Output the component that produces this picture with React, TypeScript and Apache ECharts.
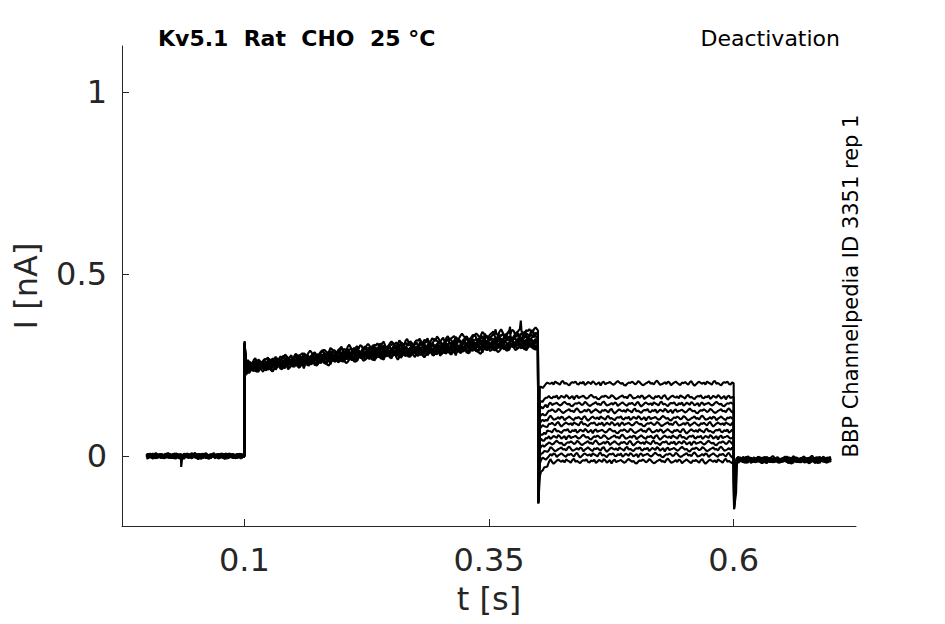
import React, { useEffect, useRef } from "react";
import * as echarts from "echarts";

// ---- Data ----
const X_TICKS = [0.1, 0.35, 0.6];
const Y_TICKS = [0, 0.5, 1];

// Mean activation envelope (0.1 s – 0.4 s)
const ACT_T = [0.1, 0.125, 0.15, 0.175, 0.2, 0.225, 0.25, 0.275, 0.3, 0.325, 0.35, 0.375, 0.4];
const ACT_MEAN = [0.245, 0.252, 0.26, 0.268, 0.276, 0.282, 0.288, 0.292, 0.297, 0.302, 0.307, 0.312, 0.315];

// Per-trace values (12 sweeps)
const PRE_LEVEL = [0.002, 0.001, 0.0, 0.0, -0.001, 0.001, 0.0, -0.002, 0.002, 0.0, -0.001, 0.001];
const ACT_SPIKE = [0.316, 0.312, 0.31, 0.305, 0.314, 0.308, 0.302, 0.31, 0.306, 0.3, 0.309, 0.304];
const ACT_OFF_START = [0.01, 0.007, 0.004, 0.002, 0.0, 0.0, -0.002, -0.004, -0.006, -0.008, -0.01, -0.012];
const ACT_OFF_END = [0.03, 0.022, 0.015, 0.01, 0.005, 0.0, 0.0, -0.005, -0.008, -0.01, -0.012, -0.015];
const DEACT_SPIKE = [-0.13, -0.128, -0.126, -0.124, -0.122, -0.12, -0.118, -0.116, -0.114, -0.112, -0.11, -0.13];
const DEACT_START = [0.19, 0.15, 0.13, 0.11, 0.09, 0.075, 0.055, 0.04, 0.02, 0.0, -0.02, -0.055];
const DEACT_LEVEL = [0.2, 0.162, 0.143, 0.124, 0.104, 0.088, 0.069, 0.052, 0.036, 0.019, 0.003, -0.014];
const POST_SPIKE = [-0.1, -0.105, -0.11, -0.115, -0.12, -0.125, -0.13, -0.135, -0.14, -0.142, -0.145, -0.146];
const POST_START = [-0.02, -0.02, -0.02, -0.02, -0.02, -0.025, -0.025, -0.03, -0.03, -0.04, -0.07, -0.1];
const POST_LEVEL = [-0.006, -0.008, -0.009, -0.01, -0.01, -0.011, -0.011, -0.012, -0.012, -0.013, -0.013, -0.014];

// Hand-typed recording noise pattern (unitless, scaled per phase)
const NOISE = [0.2, 0.5, -0.1, -0.6, -0.3, 0.4, 0.9, 0.3, -0.2, 0.1, -0.7, -0.9, -0.2, 0.3, 0.1, 0.6, 0.2, -0.4, -0.1, 0.8,
  0.4, -0.3, -0.8, -0.5, 0.0, 0.3, 0.7, -0.2, 0.1, -0.5, 0.5, 1.0, 0.2, -0.6, -0.4, -0.1, 0.4, -0.3, 0.6, 0.3,
  -0.8, -0.2, 0.2, 0.7, 0.1, -0.4, -0.7, 0.3, 0.0, 0.5, -0.1, -0.6, 0.4, 0.8, -0.3, -1.0, -0.4, 0.2, 0.6, 0.1,
  -0.2, 0.3, -0.5, 0.7, 0.2, -0.1, -0.6, 0.5, 0.9, -0.2, 0.1, -0.4, -0.8, 0.0, 0.4, 0.2, 0.7, -0.3, -0.5, 0.3,
  -0.1, 0.6, -0.7, -0.2, 0.5, 0.1, -0.3, 0.8, 0.3, -0.6, -0.1, 0.4, -0.9, 0.2, 0.6, -0.4, 0.0];

// Isolated excursions seen in the picture: [trace, t, value]
const EXTRA_POINTS: [number, number, number][] = [
  [3, 0.0355, -0.03],
  [0, 0.3825, 0.372],
  [1, 0.3715, 0.355],
  [0, 0.3565, 0.348],
  [2, 0.3455, 0.338],
];

const STEP = 0.0016;

function envelope(t: number): number {
  for (let i = 0; i < ACT_T.length - 1; i++) {
    if (t <= ACT_T[i + 1]) {
      const f = (t - ACT_T[i]) / (ACT_T[i + 1] - ACT_T[i]);
      return ACT_MEAN[i] + f * (ACT_MEAN[i + 1] - ACT_MEAN[i]);
    }
  }
  return ACT_MEAN[ACT_MEAN.length - 1];
}

function buildTrace(k: number): number[][] {
  const pts: number[][] = [];
  let j = 0;
  const nz = (amp: number) => NOISE[(j++ + 17 * k) % NOISE.length] * amp;
  // holding
  for (let i = 0; i < 62; i++) pts.push([i * STEP, PRE_LEVEL[k] + nz(0.007)]);
  pts.push([0.1, PRE_LEVEL[k]]);
  pts.push([0.1003, ACT_SPIKE[k]]);
  // activation
  for (let i = 1; i < 187; i++) {
    const t = 0.1 + i * STEP;
    const f = (t - 0.1) / 0.3;
    const off = ACT_OFF_START[k] + f * (ACT_OFF_END[k] - ACT_OFF_START[k]);
    pts.push([t, envelope(t) + off + nz(0.011)]);
  }
  pts.push([0.4, envelope(0.4) + ACT_OFF_END[k]]);
  pts.push([0.4004, DEACT_SPIKE[k]]);
  pts.push([0.402, DEACT_START[k]]);
  // deactivation
  for (let i = 2; i < 125; i++) {
    const t = 0.4 + i * STEP;
    const rel = i < 8 ? (DEACT_START[k] - DEACT_LEVEL[k]) * (8 - i) / 8 : 0;
    pts.push([t, DEACT_LEVEL[k] + rel + nz(0.007)]);
  }
  pts.push([0.6, DEACT_LEVEL[k]]);
  pts.push([0.6004, POST_SPIKE[k]]);
  pts.push([0.6025, POST_START[k]]);
  // tail
  for (let i = 2; i <= 62; i++) {
    const t = 0.6 + i * STEP;
    pts.push([t, POST_LEVEL[k] + nz(0.007)]);
  }
  EXTRA_POINTS.filter((e) => e[0] === k).forEach((e) => pts.push([e[1], e[2]]));
  pts.sort((a, b) => a[0] - b[0]);
  return pts;
}

const FONT = "DejaVu Sans";
const AX = "#262626";

export default function App() {
  const ref = useRef<HTMLDivElement>(null);
  useEffect(() => {
    if (!ref.current) return;
    const chart = echarts.init(ref.current, undefined, { renderer: "svg" });
    const series = DEACT_LEVEL.map((_, k) => ({
      type: "line",
      data: buildTrace(k),
      showSymbol: false,
      symbol: "none",
      lineStyle: { color: "#000", width: 2.1 },
      silent: true,
    }));
    chart.setOption({
      animation: false,
      backgroundColor: "#fff",
      grid: { left: 122, right: 89, top: 46, bottom: 98, containLabel: false },
      xAxis: {
        type: "value",
        min: -0.025,
        max: 0.725,
        name: "t [s]",
        nameLocation: "middle",
        nameGap: 57,
        nameTextStyle: { fontFamily: FONT, fontSize: 32, color: AX },
        axisLine: { show: true, onZero: false, lineStyle: { color: AX, width: 1 } },
        axisTick: { show: true, inside: true, length: 7, customValues: X_TICKS, lineStyle: { color: AX } },
        axisLabel: { customValues: X_TICKS, fontFamily: FONT, fontSize: 32, color: AX, margin: 18 },
        splitLine: { show: false },
      },
      yAxis: {
        type: "value",
        min: -0.192,
        max: 1.126,
        name: "I [nA]",
        nameLocation: "middle",
        nameGap: 80,
        nameRotate: 90,
        nameTextStyle: { fontFamily: FONT, fontSize: 32, color: AX },
        axisLine: { show: true, onZero: false, lineStyle: { color: AX, width: 1 } },
        axisTick: { show: true, inside: true, length: 7, customValues: Y_TICKS, lineStyle: { color: AX } },
        axisLabel: { customValues: Y_TICKS, fontFamily: FONT, fontSize: 32, color: AX, margin: 15 },
        splitLine: { show: false },
      },
      graphic: [
        {
          type: "text",
          left: 158,
          top: 27,
          style: { text: "Kv5.1  Rat  CHO  25 °C", font: `bold 22px "${FONT}"`, fill: "#000" },
        },
        {
          type: "text",
          right: 105,
          top: 27,
          style: { text: "Deactivation", font: `22px "${FONT}"`, fill: "#000" },
        },
        {
          type: "text",
          x: 851,
          y: 286,
          rotation: Math.PI / 2,
          style: {
            text: "BBP Channelpedia ID 3351 rep 1",
            font: `21px "${FONT}"`,
            fill: "#000",
            align: "center",
            verticalAlign: "middle",
          },
        },
      ],
      series,
    });
    return () => chart.dispose();
  }, []);
  return <div ref={ref} style={{ width: 945, height: 624, margin: -8 }} />;
}
